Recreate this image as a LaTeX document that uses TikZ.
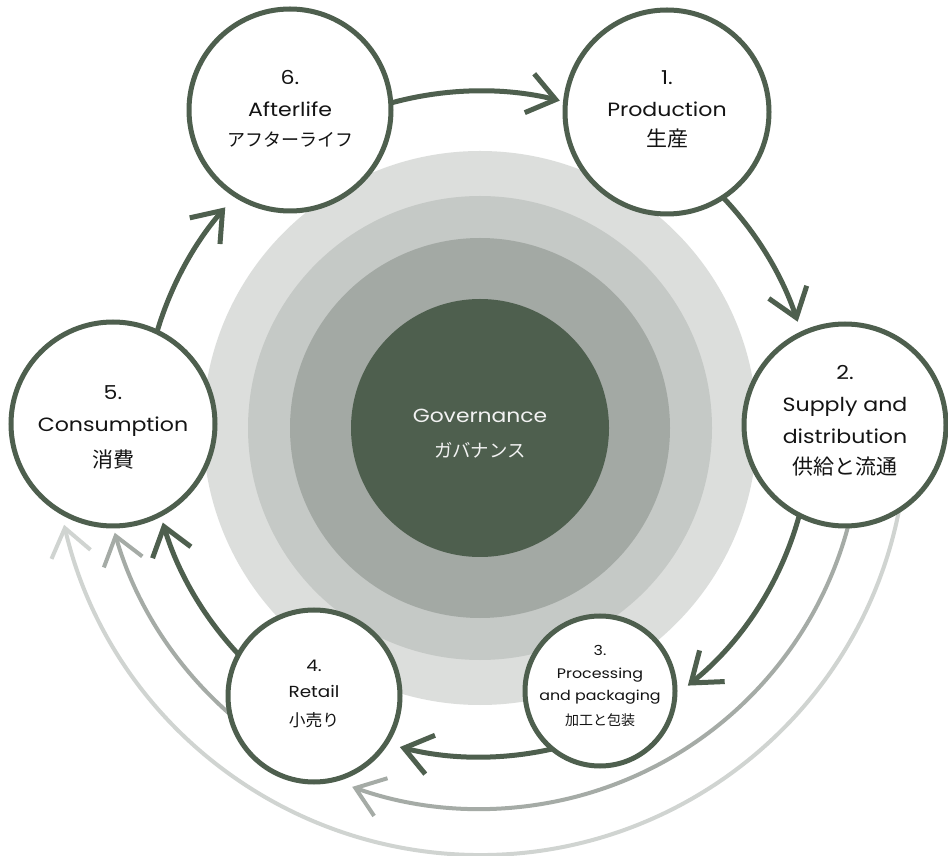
\documentclass[tikz,border=0pt]{standalone}
\usepackage{fontspec}
\setmainfont{Poppins}[FakeStretch=1.15]
\newfontfamily\jp{Noto Sans CJK JP}
\usetikzlibrary{arrows.meta}
\definecolor{dgreen}{HTML}{4E5F4E}
\definecolor{ringA}{HTML}{DCDEDC}
\definecolor{ringB}{HTML}{C5C9C6}
\definecolor{ringC}{HTML}{A3A9A4}
\definecolor{midgrey}{HTML}{A5ABA6}
\definecolor{lightgrey}{HTML}{D0D4D1}
\definecolor{ink}{HTML}{141414}
\definecolor{govtext}{HTML}{F2F2F2}
\pgfdeclarelayer{rings}
\pgfdeclarelayer{links}
\pgfsetlayers{rings,links,main}
\begin{document}
\begin{tikzpicture}[x=1pt,y=1pt,
  stage/.style={circle, draw=dgreen, line width=5pt, fill=white, inner sep=0pt},
  link/.style={draw=dgreen, line width=5pt, -{Straight Barb[length=27pt,width=40pt]}},
  midlink/.style={draw=midgrey, line width=4pt, -{Straight Barb[length=27pt,width=40pt]}},
  lightlink/.style={draw=lightgrey, line width=4pt, -{Straight Barb[length=27pt,width=40pt]}},
  lat/.style={anchor=base, inner sep=0pt, text=ink, font=\fontsize{19.2}{19}\selectfont},
  jpl/.style={anchor=base, inner sep=0pt, text=ink, font=\jp\fontsize{18}{18}\selectfont},
  jpk/.style={anchor=base, inner sep=0pt, text=ink, font=\jp\fontsize{21}{21}\selectfont},
  latS/.style={anchor=base, inner sep=0pt, text=ink, font=\fontsize{13.8}{14}\selectfont},
  jpS/.style={anchor=base, inner sep=0pt, text=ink, font=\jp\fontsize{14}{14}\selectfont},
  latM/.style={anchor=base, inner sep=0pt, text=ink, font=\fontsize{16}{16}\selectfont},
  jpM/.style={anchor=base, inner sep=0pt, text=ink, font=\jp\fontsize{16.7}{16}\selectfont},
  govl/.style={anchor=base, inner sep=0pt, text=govtext, font=\fontsize{19}{19}\selectfont},
  govj/.style={anchor=base, inner sep=0pt, text=govtext, font=\jp\fontsize{18.4}{19}\selectfont}
]
\useasboundingbox (0,0) rectangle (948,855);
\coordinate (C) at (480,427);

% background and concentric rings
\begin{pgfonlayer}{rings}
\fill[white] (0,0) rectangle (948,855);
\fill[ringA] (C) circle[radius=277];
\fill[ringB] (C) circle[radius=232];
\fill[ringC] (C) circle[radius=190];
\end{pgfonlayer}
\node[circle, fill=dgreen, inner sep=0pt, minimum size=258] (gov) at (C) {};
\node[govl] (govA) at (480,432) {Governance};
\node[govj] (govB) at (480,397) {ガバナンス};

% stages
\node[stage, minimum size=202] (afterlife) at (290,745) {};
\node[stage, minimum size=204] (production) at (667,743) {};
\node[stage, minimum size=202] (supply) at (845,430) {};
\node[stage, minimum size=150] (processing) at (600,164) {};
\node[stage, minimum size=172] (retail) at (314,159) {};
\node[stage, minimum size=204] (consumption) at (113,431) {};

\node[lat] (t6a) at (290,770) {6.};
\node[lat] (t6b) at (290,738) {Afterlife};
\node[jpl] (t6c) at (290,708) {アフターライフ};

\node[lat] (t1a) at (667,770) {1.};
\node[lat] (t1b) at (667,738) {Production};
\node[jpk] (t1c) at (667,708) {生産};

\node[lat] (t2a) at (845,475) {2.};
\node[lat] (t2b) at (845,443) {Supply and};
\node[lat] (t2c) at (845,411) {distribution};
\node[jpl, font=\jp\fontsize{21}{21}\selectfont] (t2d) at (845,380) {供給と流通};

\node[latS] (t3a) at (600,200) {3.};
\node[latS] (t3b) at (600,177) {Processing};
\node[latS] (t3c) at (600,155) {and packaging};
\node[jpS] (t3d) at (600,130) {加工と包装};

\node[latM] (t4a) at (314,184) {4.};
\node[latM] (t4b) at (314,158) {Retail};
\node[jpM] (t4c) at (314,129) {小売り};

\node[lat] (t5a) at (113,455) {5.};
\node[lat] (t5b) at (113,423) {Consumption};
\node[jpk] (t5c) at (113,387) {消費};

% connectors (arcs round the centre, under the stage circles)
\begin{pgfonlayer}{links}
\draw[lightlink] (C) ++(-9:427) arc[start angle=-9, end angle=-166.9, radius=427];
\draw[midlink] (C) ++(-13:381) arc[start angle=-13, end angle=-109.6, radius=381];
\draw[midlink] (C) ++(-128:380) arc[start angle=-128, end angle=-164, radius=380];
\draw[link] (C) ++(106:337) arc[start angle=106, end angle=76.3, radius=337];
\draw[link] (C) ++(45:335) arc[start angle=45, end angle=18.5, radius=335];
\draw[link] (C) ++(-13:331) arc[start angle=-13, end angle=-51.1, radius=331];
\draw[link] (C) ++(-75:329) arc[start angle=-75, end angle=-104.1, radius=329];
\draw[link] (C) ++(-135:331) arc[start angle=-135, end angle=-163.4, radius=331];
\draw[link] (C) ++(165:337) arc[start angle=165, end angle=139.1, radius=337];
\end{pgfonlayer}
\end{tikzpicture}
\end{document}
